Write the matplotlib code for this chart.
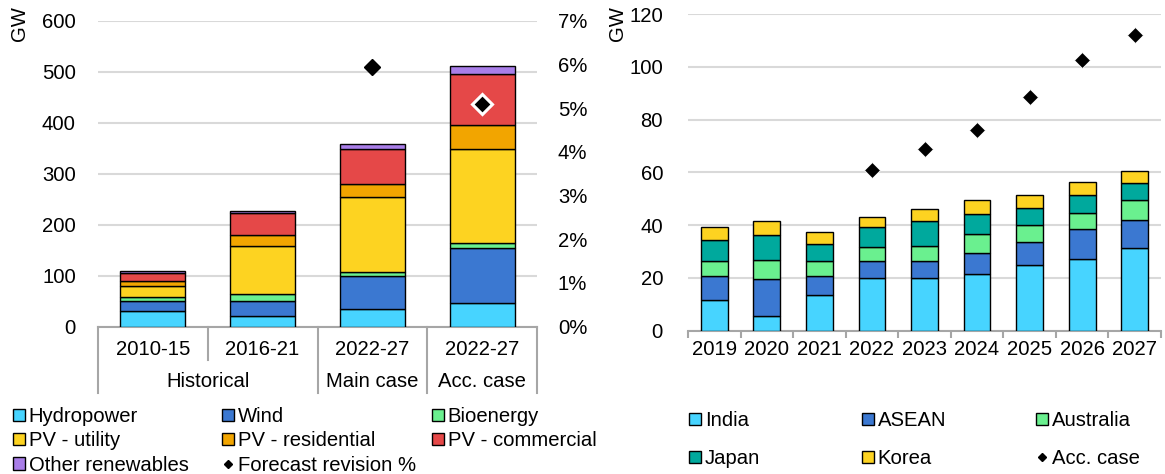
import numpy as np
import matplotlib
matplotlib.use("Agg")
import matplotlib.pyplot as plt
from matplotlib.patches import Patch
from matplotlib.lines import Line2D
from matplotlib.ticker import FuncFormatter

FS = 14.6
plt.rcParams['font.family'] = ['Liberation Sans', 'DejaVu Sans']
plt.rcParams['font.size'] = FS

# ---------------- data: left chart ----------------
left_categories = ['2010-15', '2016-21', '2022-27', '2022-27']
left_groups = ['Historical', 'Main case', 'Acc. case']
left_group_spans = [(0, 1), (2, 2), (3, 3)]
hydropower = [31, 21, 35, 46]
wind = [19, 30, 64, 108]
bioenergy = [7.5, 13, 8, 10]
pv_utility = [22.5, 95, 147, 184]
pv_residential = [10, 20, 26, 47]
pv_commercial = [16, 43, 69, 101]
other_renewables = [3, 4, 10, 15]
forecast_revision = [np.nan, np.nan, 5.95, 5.1]  # percent

# ---------------- data: right chart ----------------
years = ['2019', '2020', '2021', '2022', '2023', '2024', '2025', '2026', '2027']
india = [11.6, 5.6, 13.3, 20.0, 20.0, 21.5, 24.7, 27.2, 31.4]
asean = [9.1, 14.1, 7.2, 6.4, 6.4, 7.8, 8.8, 11.2, 10.6]
australia = [5.7, 7.0, 5.9, 5.3, 5.7, 7.2, 6.6, 6.2, 7.6]
japan = [8.1, 9.7, 6.5, 7.5, 9.5, 7.7, 6.4, 6.9, 6.5]
korea = [4.8, 5.3, 4.6, 3.9, 4.5, 5.4, 4.8, 4.9, 4.3]
acc_case = [np.nan, np.nan, np.nan, 61.1, 68.9, 76.2, 88.7, 102.5, 112.3]

# ---------------- colours ----------------
C_LBLUE = '#47D4FF'
C_BLUE = '#3B78D1'
C_GREEN = '#6AF08F'
C_YELLOW = '#FDD321'
C_ORANGE = '#F2A500'
C_RED = '#E54848'
C_PURPLE = '#A97EE8'
C_TEAL = '#00A99D'
GRID = '#D9D9D9'
AXIS = '#A6A6A6'

W, H = 1165, 474
fig = plt.figure(figsize=(W / 100, H / 100), dpi=100)

def fx(px):
    return px / W

def fy(py):
    return 1 - py / H

# ================= LEFT CHART =================
ax1 = fig.add_axes([fx(98), fy(326.7), fx(537) - fx(98), fy(20.7) - fy(326.7)])
x1 = np.arange(len(left_categories))
left_series = [
    ('Hydropower', hydropower, C_LBLUE),
    ('Wind', wind, C_BLUE),
    ('Bioenergy', bioenergy, C_GREEN),
    ('PV - utility', pv_utility, C_YELLOW),
    ('PV - residential', pv_residential, C_ORANGE),
    ('PV - commercial', pv_commercial, C_RED),
    ('Other renewables', other_renewables, C_PURPLE),
]
bottom = np.zeros(len(x1))
for name, vals, col in left_series:
    ax1.bar(x1, vals, bottom=bottom, width=0.59, color=col, edgecolor='black',
            linewidth=1.0, zorder=3)
    bottom += np.array(vals)

ax1.set_xlim(-0.5, len(x1) - 0.5)
ax1.set_ylim(0, 600)
ax1.set_yticks(np.arange(0, 601, 100))
ax1.yaxis.grid(True, color=GRID, linewidth=1.5)
ax1.set_axisbelow(True)
ax1.tick_params(axis='y', length=0, pad=16, labelsize=FS)
ax1.set_xticks([])
for s in ['top', 'left', 'right']:
    ax1.spines[s].set_visible(False)
ax1.spines['bottom'].set_color(AXIS)
ax1.spines['bottom'].set_linewidth(1.5)

# category separators and labels
trans = ax1.get_xaxis_transform()
short_sep = [0.5]
for xs in np.arange(-0.5, len(x1), 1.0):
    ylow = -0.109 if xs in short_sep else -0.217
    ax1.plot([xs, xs], [0, ylow], color=AXIS, linewidth=1.5, transform=trans,
             clip_on=False)
for xi, lab in zip(x1, left_categories):
    ax1.text(xi, -0.076, lab, transform=trans, ha='center', va='center', fontsize=FS)
for (a, b), g in zip(left_group_spans, left_groups):
    ax1.text((a + b) / 2, -0.178, g, transform=trans, ha='center', va='center',
             fontsize=FS)

ax1b = ax1.twinx()
ax1b.set_ylim(0, 7)
ax1b.set_yticks(np.arange(0, 8, 1))
ax1b.yaxis.set_major_formatter(FuncFormatter(lambda v, p: f'{v:.0f}%'))
ax1b.tick_params(axis='y', length=0, pad=15, labelsize=FS)
for s in ['top', 'left', 'right', 'bottom']:
    ax1b.spines[s].set_visible(False)
rev = np.array(forecast_revision)
# main case diamond (black edge), acc case diamond (white edge)
ax1b.plot(x1[2:3], rev[2:3], linestyle='none', marker='D', markersize=8,
          color='black', markeredgecolor='black', zorder=5)
ax1b.plot(x1[3:4], rev[3:4], linestyle='none', marker='D', markersize=10,
          color='black', markeredgecolor='white', markeredgewidth=2.2, zorder=5)

fig.text(fx(19), fy(24), 'GW', rotation=90, ha='center', va='center', fontsize=FS)

# ================= RIGHT CHART =================
ax2 = fig.add_axes([fx(688), fy(330.5), fx(1161) - fx(688), fy(14.3) - fy(330.5)])
x2 = np.arange(len(years))
right_series = [
    ('India', india, C_LBLUE),
    ('ASEAN', asean, C_BLUE),
    ('Australia', australia, C_GREEN),
    ('Japan', japan, C_TEAL),
    ('Korea', korea, C_YELLOW),
]
bottom = np.zeros(len(x2))
for name, vals, col in right_series:
    ax2.bar(x2, vals, bottom=bottom, width=0.51, color=col, edgecolor='black',
            linewidth=1.0, zorder=3)
    bottom += np.array(vals)
ax2.plot(x2, acc_case, linestyle='none', marker='D', markersize=8, color='black',
         markeredgecolor='white', markeredgewidth=0.6, zorder=5)

ax2.set_xlim(-0.5, len(x2) - 0.5)
ax2.set_ylim(0, 120)
ax2.set_yticks(np.arange(0, 121, 20))
ax2.yaxis.grid(True, color=GRID, linewidth=1.5)
ax2.set_axisbelow(True)
ax2.tick_params(axis='y', length=0, pad=18, labelsize=FS)
ax2.set_xticks(x2)
ax2.set_xticklabels(years, fontsize=FS)
ax2.set_xticks(np.arange(-0.5, len(x2), 1.0), minor=True)
ax2.tick_params(axis='x', which='major', length=0, pad=7)
ax2.tick_params(axis='x', which='minor', length=5, width=1.5, color=AXIS)
for s in ['top', 'left', 'right']:
    ax2.spines[s].set_visible(False)
ax2.spines['bottom'].set_color(AXIS)
ax2.spines['bottom'].set_linewidth(1.5)

fig.text(fx(618), fy(24), 'GW', rotation=90, ha='center', va='center', fontsize=FS)

# ================= LEGENDS =================
def patch(col):
    return Patch(facecolor=col, edgecolor='black', linewidth=1.0)

def diamond():
    return Line2D([], [], linestyle='none', marker='D', markersize=4,
                  color='black')

def column_legend(handles, labels, xpx, ypx, spacing):
    leg = fig.legend(handles, labels, loc='upper left',
                     bbox_to_anchor=(fx(xpx), fy(ypx)), frameon=False,
                     fontsize=FS, handlelength=0.58, handleheight=0.58,
                     handletextpad=0.2, labelspacing=spacing, borderpad=0,
                     borderaxespad=0)
    return leg

sp_left = 0.26
column_legend([patch(C_LBLUE), patch(C_YELLOW), patch(C_PURPLE)],
              ['Hydropower', 'PV - utility', 'Other renewables'], 13, 407, sp_left)
column_legend([patch(C_BLUE), patch(C_ORANGE), diamond()],
              ['Wind', 'PV - residential', 'Forecast revision %'], 222, 407, sp_left)
column_legend([patch(C_GREEN), patch(C_RED)],
              ['Bioenergy', 'PV - commercial'], 432, 407, sp_left)

sp_right = 0.94
column_legend([patch(C_LBLUE), patch(C_TEAL)], ['India', 'Japan'], 689, 411, sp_right)
column_legend([patch(C_BLUE), patch(C_YELLOW)], ['ASEAN', 'Korea'], 862, 411, sp_right)
column_legend([patch(C_GREEN), diamond()], ['Australia', 'Acc. case'], 1036, 411, sp_right)

fig.savefig('out.png', dpi=100)
